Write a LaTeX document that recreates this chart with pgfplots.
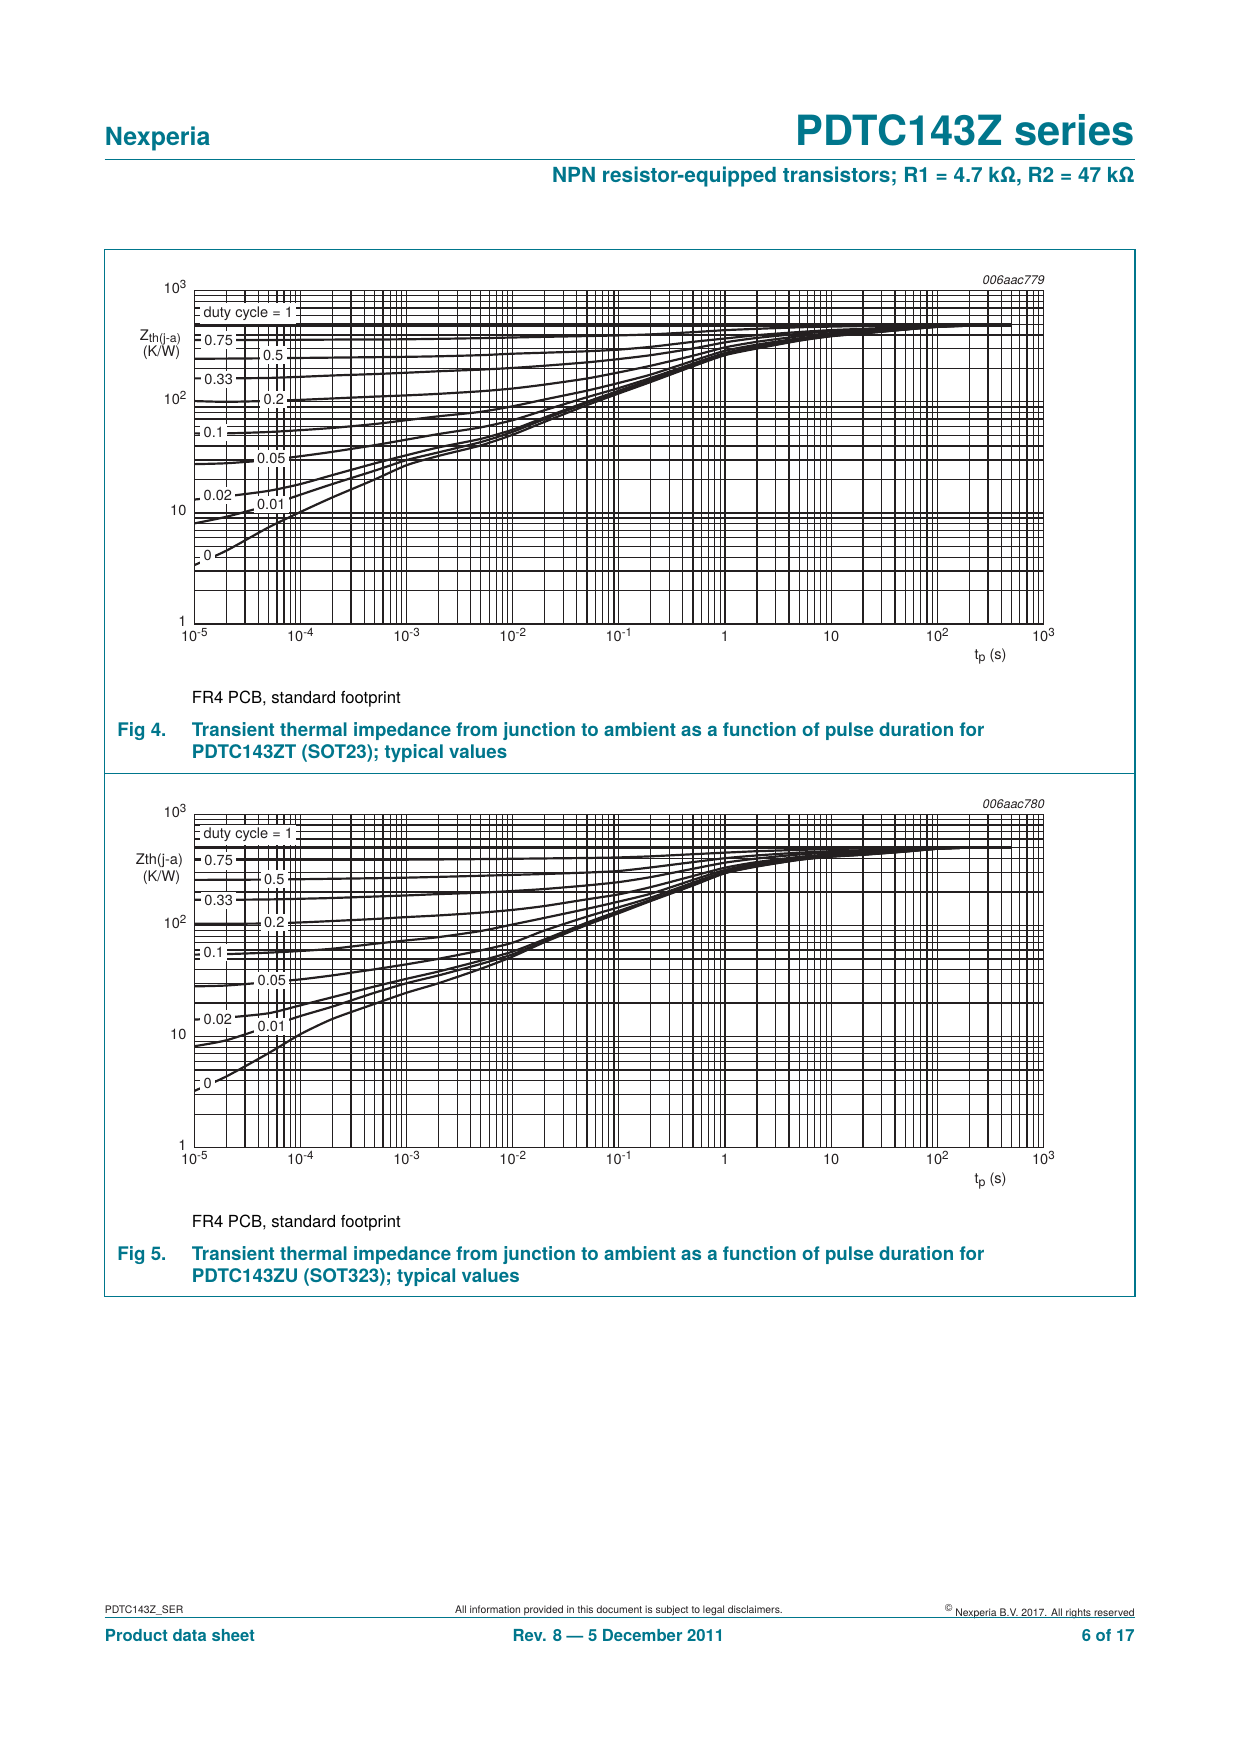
\documentclass[border=0pt]{standalone}
\usepackage{pgfplots}
\usepackage{pgfplotstable}
\pgfplotsset{compat=1.18}
\usepackage{fontspec}
\setmainfont{TeX Gyre Heros}
\definecolor{nxteal}{RGB}{0,118,140}
\definecolor{ink}{RGB}{35,31,32}
\newcommand\fs[1]{\fontsize{#1pt}{#1pt}\selectfont}
\newcommand\pw[1]{10\raisebox{2.4pt}{\fs{5.6}#1}}
\newcommand\sub[1]{\raisebox{-1.3pt}{\fs{5.9}#1}}

% Zth(j-a) in K/W per duty cycle, SOT23
\pgfplotstableread{
t     d0   d001 d002 d005 d01  d02   d033  d05   d075  d1
1e-5  3.39 8.05 13.2 27.5 52.0 101.6 162.6 244.3 359.7 490
2e-5  4.57 9.23 14.1 28.0 52.0 100.0 162.6 244.9 359.7 490
5e-5  7.41 11.7 15.8 29.9 53.5 101.9 164.1 246.6 360.6 490
1e-4  10.2 14.6 18.2 32.4 55.6 104.2 167.9 248.3 361.4 490
2e-4  13.8 18.2 21.9 35.5 58.2 107.2 172.6 250.0 363.1 490
5e-4  20.0 24.0 27.9 40.7 63.1 111.4 177.8 252.3 363.9 490
1e-3  26.9 29.9 33.1 45.7 68.4 114.3 182.8 254.1 365.6 490
2e-3  32.6 35.1 38.9 51.3 74.1 118.0 188.4 257.0 368.9 490
5e-3  40.5 43.4 46.4 58.9 81.3 124.5 195.0 263.0 374.1 490
1e-2  50.6 53.7 56.2 68.4 91.2 131.8 201.8 271.0 379.3 490
2e-2  66.1 70.0 72.4 84.1 105  142.9 211.3 276.7 384.6 490
5e-2  93.3 97.7 100  110  126  162.2 226.5 285.1 390.8 490
0.1   119  123  126  133  148  184.1 242.7 295.1 396.3 490
0.2   151  155  158  164  176  211.3 263.0 312.6 404.6 490
0.5   209  211  214  221  234  260   302   346.7 423.6 490
1     263  266  269  275  288  309   343   371.5 441.6 490
2     302  305  309  316  327  347   376   398   453.9 490
5     355  357  360  365  373  389   410   425   468.8 490
10    389  391  393  396  403  415   430   442   475.3 490
20    412  414  417  419  424  433   444   454   480.8 490
50    447  448  449  451  454  460   463   470   486.4 490
100   473  473  474  475  476  479   481   483   488.7 490
200   484  484  485  485  486  487   488   489   490   490
500   490  490  490  490  490  490   490   490   490   490
}\tabA

% same for SOT323
\pgfplotstableread{
t     d0   d001 d002 d005 d01  d02   d033  d05   d075  d1
1e-5  3.24 8.18 14.2 28.3 54.6 103.5 170.2 257.0 389.0 505
2e-5  4.37 9.25 14.8 28.8 55.2 103.5 170.2 257.6 389.0 505
5e-5  7.08 12.3 16.2 30.9 56.9 104.2 171.4 258.8 389.0 505
1e-4  10.5 15.3 19.1 32.7 58.9 106.4 173.8 260.6 389.9 505
2e-4  14.4 18.6 22.6 35.5 61.7 109.6 176.6 263.0 389.9 505
5e-4  19.7 24.8 28.2 40.3 68.4 114.3 182.0 266.1 390.8 505
1e-3  24.8 30.2 33.1 44.7 73.3 118.9 186.2 269.2 390.8 505
2e-3  30.2 35.5 38.5 50.1 78.5 123.0 191.4 273.5 392.6 505
5e-3  40.7 45.0 48.2 59.6 89.1 130.3 197.2 279.9 395.4 505
1e-2  52.5 55.0 58.2 70.0 102  138.0 204.2 285.1 398.1 505
2e-2  70.8 72.4 75.0 90.2 117  149.6 212.8 290.4 400.9 505
5e-2  101  104  106  120  141  171.8 229.1 299.2 404.6 505
0.1   129  132  135  146  164  190.5 245.5 309.0 409.3 505
0.2   166  168  170  178  193  221.3 272.3 332.7 418.8 505
0.5   229  232  234  243  257  278.6 323.6 371.5 437.5 505
1     295  297  299  305  316  331   367.3 402.7 451.9 505
2     339  341  344  351  360  372   400   426.6 465.6 505
5     389  391  393  398  405  414   435   451.9 478.6 505
10    415  417  419  424  429  436   452   465.6 487.5 505
20    432  434  435  438  443  448   460   475.3 493.2 505
50    462  463  465  467  470  473   479   487.5 498.9 505
100   490  490  490  491  492  493   495   497.7 501.2 505
200   501  501  501  501  502  502   503   503.5 503.5 505
500   505  505  505  505  505  505   505   504.7 504.7 505
}\tabB

\tikzset{
  zcurve/.style={ink, line width=1.05pt, smooth, tension=0.4, line join=round},
  zlbl/.style={fill=white, text=ink, font=\fs{7}, inner xsep=1.6pt, inner ysep=1.6pt, anchor=west},
}

\begin{document}
\begin{tikzpicture}[x=0.48pt,y=0.48pt, every node/.style={inner sep=0pt}]
\path[use as bounding box] (0,0) rectangle (1240,-1754);

% page header
\node[anchor=base west, text=nxteal, font={\bfseries\fs{12}}] at (104.5,-145) {Nexperia};
\node[anchor=base east, text=nxteal, font={\bfseries\fs{20}}] at (1135,-145) {PDTC143Z series};
\draw[nxteal, line width=0.5pt] (104.5,-159.3) -- (1135,-159.3);
\node[anchor=base east, text=nxteal, font={\bfseries\fs{10}}] at (1135,-182.7)
  {NPN resistor-equipped transistors; R1 = 4.7 kΩ, R2 = 47 kΩ};

% figure frame
\draw[nxteal, line width=0.5pt] (104.5,-249.3) rectangle (1135,-1296.7);
\draw[nxteal, line width=0.5pt] (104.5,-773.3) -- (1135,-773.3);

% ---- Fig 4
\node[anchor=base east, text=ink, font={\itshape\fs{6}}] at (1045,-284) {006aac779};
\node[anchor=base, text=ink, font=\fs{7}] at (160.4,-340) {Z\sub{th(j-a)}};
\node[anchor=base, text=ink, font=\fs{7}] at (161.5,-356) {(K/W)};
\node[anchor=base east, text=ink, font=\fs{7}] at (1007,-659) {t\sub{p} (s)};
\node[anchor=base west, text=black, font=\fs{8}] at (191.4,-703.3) {FR4 PCB, standard footprint};
\node[anchor=base west, text=nxteal, font={\bfseries\fs{9}}] at (117,-736) {Fig 4.};
\node[anchor=base west, text=nxteal, font={\bfseries\fs{9}}] at (191.4,-736)
  {Transient thermal impedance from junction to ambient as a function of pulse duration for};
\node[anchor=base west, text=nxteal, font={\bfseries\fs{9}}] at (191.4,-758.7)
  {PDTC143ZT (SOT23); typical values};

\begin{axis}[
    at={(93.264pt,-139.536pt)}, anchor=north west,
    scale only axis, width=407.57pt, height=160pt,
    xmode=log, ymode=log, xmin=1e-5, xmax=1e3, ymin=1, ymax=1e3,
    xtick={1e-5,1e-4,1e-3,1e-2,1e-1,1,10,100,1000},
    xticklabels={\pw{-5},\pw{-4},\pw{-3},\pw{-2},\pw{-1},1,10,\pw{2},\pw{3}},
    ytick={1,10,100,1000},
    yticklabels={1,10,\pw{2},\pw{3}},
    minor xtick={2e-5,3e-5,4e-5,5e-5,6e-5,7e-5,8e-5,9e-5,
      2e-4,3e-4,4e-4,5e-4,6e-4,7e-4,8e-4,9e-4,
      2e-3,3e-3,4e-3,5e-3,6e-3,7e-3,8e-3,9e-3,
      0.02,0.03,0.04,0.05,0.06,0.07,0.08,0.09,
      0.2,0.3,0.4,0.5,0.6,0.7,0.8,0.9,
      2,3,4,5,6,7,8,9,20,30,40,50,60,70,80,90,
      200,300,400,500,600,700,800,900},
    minor ytick={2,3,4,5,6,7,8,9,20,30,40,50,60,70,80,90,
      200,300,400,500,600,700,800,900},
    grid=both,
    major grid style={ink, line width=0.6pt},
    minor grid style={ink, line width=0.6pt},
    axis line style={ink, line width=0.6pt},
    major tick length=0pt, minor tick length=0pt,
    ticklabel style={font=\fs{7}, text=ink, inner sep=0pt},
    xticklabel style={anchor=base, yshift=-8.2pt},
    yticklabel style={anchor=base east, xshift=-3.6pt, yshift=-1.3pt},
  ]
  \addplot[zcurve] table[x=t, y=d0]   {\tabA};
  \addplot[zcurve] table[x=t, y=d001] {\tabA};
  \addplot[zcurve] table[x=t, y=d002] {\tabA};
  \addplot[zcurve] table[x=t, y=d005] {\tabA};
  \addplot[zcurve] table[x=t, y=d01]  {\tabA};
  \addplot[zcurve] table[x=t, y=d02]  {\tabA};
  \addplot[zcurve] table[x=t, y=d033] {\tabA};
  \addplot[zcurve] table[x=t, y=d05]  {\tabA};
  \addplot[zcurve] table[x=t, y=d075] {\tabA};
  \addplot[zcurve, line width=1.6pt] table[x=t, y=d1] {\tabA};
  \node[zlbl] at (1.13e-5,625) {duty cycle = 1};
  \node[zlbl] at (1.15e-5,360) {0.75};
  \node[zlbl] at (4.1e-5,264) {0.5};
  \node[zlbl] at (1.15e-5,160) {0.33};
  \node[zlbl] at (4.15e-5,105) {0.2};
  \node[zlbl] at (1.13e-5,53.1) {0.1};
  \node[zlbl] at (3.6e-5,31.0) {0.05};
  \node[zlbl] at (1.13e-5,14.3) {0.02};
  \node[zlbl] at (3.6e-5,11.9) {0.01};
  \node[zlbl] at (1.13e-5,4.12) {0};
\end{axis}

% ---- Fig 5
\node[anchor=base east, text=ink, font={\itshape\fs{6}}] at (1045,-808.3) {006aac780};
\node[anchor=base, text=ink, font=\fs{7}] at (159.4,-864.3) {Zth(j-a)};
\node[anchor=base, text=ink, font=\fs{7}] at (161.5,-881.7) {(K/W)};
\node[anchor=base east, text=ink, font=\fs{7}] at (1007,-1183.3) {t\sub{p} (s)};
\node[anchor=base west, text=black, font=\fs{8}] at (191.4,-1227) {FR4 PCB, standard footprint};
\node[anchor=base west, text=nxteal, font={\bfseries\fs{9}}] at (117,-1260.7) {Fig 5.};
\node[anchor=base west, text=nxteal, font={\bfseries\fs{9}}] at (191.4,-1260.7)
  {Transient thermal impedance from junction to ambient as a function of pulse duration for};
\node[anchor=base west, text=nxteal, font={\bfseries\fs{9}}] at (191.4,-1282.7)
  {PDTC143ZU (SOT323); typical values};

\begin{axis}[
    at={(93.264pt,-390.864pt)}, anchor=north west,
    scale only axis, width=407.57pt, height=160pt,
    xmode=log, ymode=log, xmin=1e-5, xmax=1e3, ymin=1, ymax=1e3,
    xtick={1e-5,1e-4,1e-3,1e-2,1e-1,1,10,100,1000},
    xticklabels={\pw{-5},\pw{-4},\pw{-3},\pw{-2},\pw{-1},1,10,\pw{2},\pw{3}},
    ytick={1,10,100,1000},
    yticklabels={1,10,\pw{2},\pw{3}},
    minor xtick={2e-5,3e-5,4e-5,5e-5,6e-5,7e-5,8e-5,9e-5,
      2e-4,3e-4,4e-4,5e-4,6e-4,7e-4,8e-4,9e-4,
      2e-3,3e-3,4e-3,5e-3,6e-3,7e-3,8e-3,9e-3,
      0.02,0.03,0.04,0.05,0.06,0.07,0.08,0.09,
      0.2,0.3,0.4,0.5,0.6,0.7,0.8,0.9,
      2,3,4,5,6,7,8,9,20,30,40,50,60,70,80,90,
      200,300,400,500,600,700,800,900},
    minor ytick={2,3,4,5,6,7,8,9,20,30,40,50,60,70,80,90,
      200,300,400,500,600,700,800,900},
    grid=both,
    major grid style={ink, line width=0.6pt},
    minor grid style={ink, line width=0.6pt},
    axis line style={ink, line width=0.6pt},
    major tick length=0pt, minor tick length=0pt,
    ticklabel style={font=\fs{7}, text=ink, inner sep=0pt},
    xticklabel style={anchor=base, yshift=-8.2pt},
    yticklabel style={anchor=base east, xshift=-3.6pt, yshift=-1.3pt},
  ]
  \addplot[zcurve] table[x=t, y=d0]   {\tabB};
  \addplot[zcurve] table[x=t, y=d001] {\tabB};
  \addplot[zcurve] table[x=t, y=d002] {\tabB};
  \addplot[zcurve] table[x=t, y=d005] {\tabB};
  \addplot[zcurve] table[x=t, y=d01]  {\tabB};
  \addplot[zcurve] table[x=t, y=d02]  {\tabB};
  \addplot[zcurve] table[x=t, y=d033] {\tabB};
  \addplot[zcurve] table[x=t, y=d05]  {\tabB};
  \addplot[zcurve] table[x=t, y=d075] {\tabB};
  \addplot[zcurve, line width=1.6pt] table[x=t, y=d1] {\tabB};
  \node[zlbl] at (1.13e-5,652) {duty cycle = 1};
  \node[zlbl] at (1.15e-5,381) {0.75};
  \node[zlbl] at (4.19e-5,262) {0.5};
  \node[zlbl] at (1.15e-5,168) {0.33};
  \node[zlbl] at (4.19e-5,107) {0.2};
  \node[zlbl] at (1.13e-5,57.2) {0.1};
  \node[zlbl] at (3.65e-5,32.1) {0.05};
  \node[zlbl] at (1.13e-5,14.4) {0.02};
  \node[zlbl] at (3.65e-5,12.4) {0.01};
  \node[zlbl] at (1.13e-5,3.78) {0};
\end{axis}

% footer
\node[anchor=base west, text=ink, font=\fs{5}] at (104.5,-1613.3) {PDTC143Z\_SER};
\node[anchor=base, text=ink, font=\fs{5}] at (619,-1613.3)
  {All information provided in this document is subject to legal disclaimers.};
\node[anchor=base east, text=ink, font=\fs{5}] at (1135,-1616)
  {\textsuperscript{©}\,Nexperia B.V. 2017. All rights reserved};
\draw[nxteal, line width=0.5pt] (104.5,-1617.3) -- (1135,-1617.3);
\node[anchor=base west, text=nxteal, font={\bfseries\fs{8}}] at (104.5,-1641) {Product data sheet};
\node[anchor=base, text=nxteal, font={\bfseries\fs{8}}] at (618.4,-1641) {Rev. 8 — 5 December 2011};
\node[anchor=base east, text=nxteal, font={\bfseries\fs{8}}] at (1135,-1641) {6 of 17};
\end{tikzpicture}
\end{document}
